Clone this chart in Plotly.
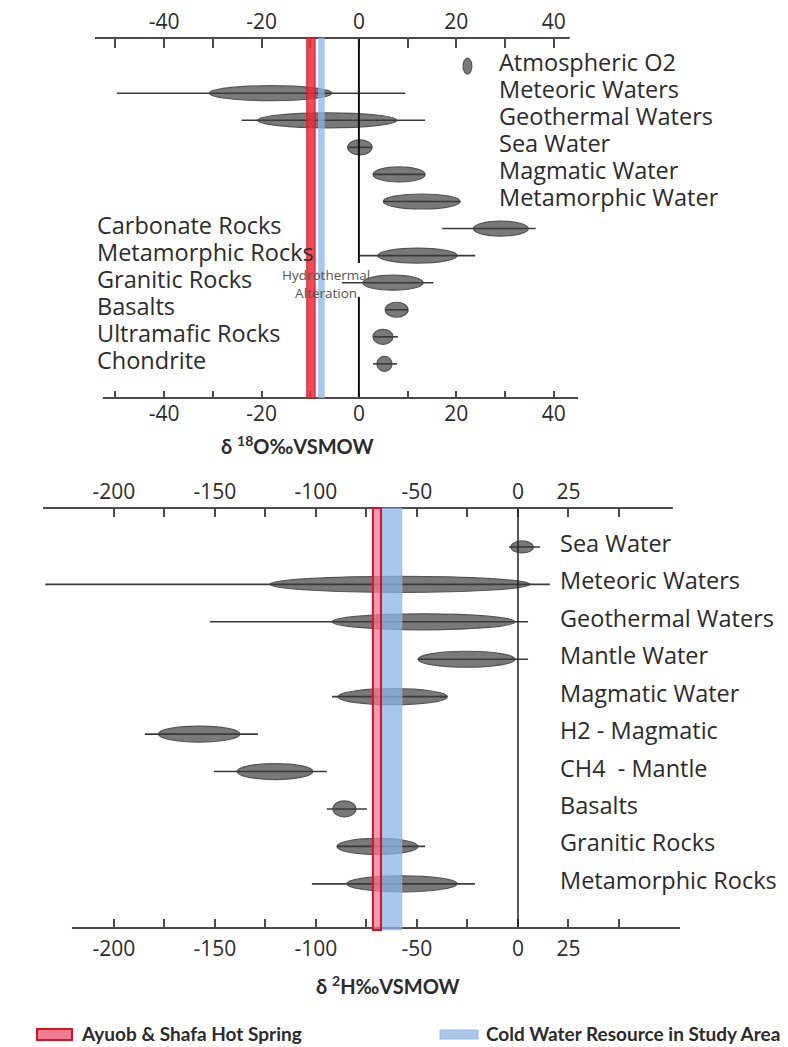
import plotly.graph_objects as go

# ---------------- data: delta 18O panel ----------------
o_labels = ["Atmospheric O2", "Meteoric Waters", "Geothermal Waters", "Sea Water",
            "Magmatic Water", "Metamorphic Water", "Carbonate Rocks", "Metamorphic Rocks",
            "Granitic Rocks", "Basalts", "Ultramafic Rocks", "Chondrite"]
o_core_lo = [21.4, -30.7, -20.8, -2.3, 2.9, 5.0, 23.5, 3.9, 0.8, 5.4, 2.9, 3.7]
o_core_hi = [23.2, -5.6, 7.8, 2.7, 13.6, 20.8, 34.8, 20.2, 13.2, 10.1, 7.0, 6.8]
o_range_lo = [None, -49.7, -24.1, -2.3, 2.9, 5.0, 17.1, 0.2, -3.5, 5.4, 2.9, 2.9]
o_range_hi = [None, 9.5, 13.6, 2.7, 13.6, 20.8, 36.3, 23.9, 15.3, 10.1, 8.0, 7.8]
o_major_ticks = [-40, -20, 0, 20, 40]
o_tick_labels = ["-40", "-20", "0", "20", "40"]
o_minor_ticks = [-50, -30, -10, 10, 30]
hot_o18 = (-10.7, -9.0)
cold_o18 = (-8.3, -7.1)

# ---------------- data: delta 2H panel ----------------
h_labels = ["Sea Water", "Meteoric Waters", "Geothermal Waters", "Mantle Water",
            "Magmatic Water", "H2 - Magmatic", "CH4  - Mantle", "Basalts",
            "Granitic Rocks", "Metamorphic Rocks"]
h_core_lo = [-3.5, -122.8, -92.0, -49.5, -89.0, -178.0, -139.0, -91.6, -89.6, -84.7]
h_core_hi = [7.6, 6.0, -1.5, -1.5, -35.0, -137.6, -101.5, -80.2, -49.5, -30.2]
h_range_lo = [-4.5, -234.0, -152.5, -49.5, -92.0, -184.7, -150.5, -94.6, -89.6, -102.0]
h_range_hi = [11.0, 15.8, 5.0, 5.0, -35.0, -128.7, -94.6, -74.8, -46.0, -21.3]
h_major_ticks = [-200, -150, -100, -50, 0, 25]
h_tick_labels = ["-200", "-150", "-100", "-50", "0", "25"]
h_minor_ticks = [-175, -125, -75, -25, 50]
hot_h2 = (-71.8, -67.8)
cold_h2 = (-67.8, -57.4)

legend_names = ["Ayuob & Shafa Hot Spring", "Cold Water Resource in Study Area"]

# ---------------- layout constants ----------------
W, H = 788, 1047
FONT = "'Open Sans', Lato, sans-serif"
BFONT = "Lato, 'Open Sans', sans-serif"
TXT = "#2b2b2b"
AX = "#4a4a4a"
ELL_FILL = "rgba(110,110,110,0.92)"
ELL_LINE = "#555555"
WHISK = "#3a3a3a"


def px_x(p):
    return p / W


def px_y(p):
    return 1 - p / H


# top panel: plot area px x 95..578, y 38..398
top_xdom = [px_x(95), px_x(578)]
top_ydom = [px_y(398), px_y(38)]
top_xrange = [-54.2, 45.0]
top_yrange = [12.26, -1.04]
# bottom panel: plot area px x 43..680, y 508..928
bot_xdom = [px_x(43), px_x(680)]
bot_ydom = [px_y(928), px_y(508)]
bot_xrange = [-235.1, 80.2]
bot_yrange = [10.18, -1.04]

fig = go.Figure()
shapes = []
annotations = []


def whisker_trace(lo, hi, xa, ya):
    xs, ys = [], []
    for i, (a, b) in enumerate(zip(lo, hi)):
        if a is None:
            continue
        xs += [a, b, None]
        ys += [i, i, None]
    return go.Scatter(x=xs, y=ys, mode="lines", xaxis=xa, yaxis=ya,
                      line=dict(color=WHISK, width=1.6), hoverinfo="skip",
                      showlegend=False)


def add_ellipses(lo, hi, yref, xref, height):
    for i, (a, b) in enumerate(zip(lo, hi)):
        shapes.append(dict(type="circle", xref=xref, yref=yref,
                           x0=a, x1=b, ysizemode="pixel", yanchor=i,
                           y0=-height / 2, y1=height / 2,
                           fillcolor=ELL_FILL, line=dict(color=ELL_LINE, width=1.2),
                           layer="below"))


# ---- top panel traces ----
fig.add_trace(whisker_trace(o_range_lo, o_range_hi, "x", "y"))
fig.add_trace(go.Scatter(x=[None], y=[None], xaxis="x2", yaxis="y",
                         showlegend=False, hoverinfo="skip"))
add_ellipses(o_core_lo, o_core_hi, "y", "x", 15)
# Atmospheric O2 is a taller, narrower blob
shapes[0]["y0"], shapes[0]["y1"] = -8, 8

# ---- bottom panel traces ----
fig.add_trace(whisker_trace(h_range_lo, h_range_hi, "x3", "y2"))
fig.add_trace(go.Scatter(x=[None], y=[None], xaxis="x4", yaxis="y2",
                         showlegend=False, hoverinfo="skip"))
add_ellipses(h_core_lo, h_core_hi, "y2", "x3", 16)
shapes[len(o_labels)]["y0"], shapes[len(o_labels)]["y1"] = -6, 6

# ---- zero lines ----
shapes.append(dict(type="line", xref="x", yref="y domain", x0=0, x1=0, y0=1, y1=0.375,
                   line=dict(color="#111", width=2)))
shapes.append(dict(type="line", xref="x", yref="y domain", x0=0, x1=0, y0=0.281, y1=0,
                   line=dict(color="#111", width=2)))
shapes.append(dict(type="line", xref="x3", yref="y2 domain", x0=0, x1=0, y0=1, y1=0,
                   line=dict(color="#222", width=1.5)))

# ---- axis lines ----
shapes.append(dict(type="line", xref="x", yref="y domain", x0=-54.2, x1=43.3, y0=1, y1=1,
                   line=dict(color=AX, width=2)))
shapes.append(dict(type="line", xref="x", yref="y domain", x0=-52.6, x1=45.0, y0=0, y1=0,
                   line=dict(color=AX, width=2)))
shapes.append(dict(type="line", xref="x3", yref="y2 domain", x0=-235.1, x1=76.7, y0=1, y1=1,
                   line=dict(color=AX, width=2)))
shapes.append(dict(type="line", xref="x3", yref="y2 domain", x0=-220.8, x1=80.2, y0=0, y1=0,
                   line=dict(color=AX, width=2)))

# ---- bands (hot spring / cold water) ----
RED_FILL = "rgba(232,45,60,0.85)"
RED_LINE = "rgba(215,20,35,1)"
BLUE_FILL = "rgba(140,180,228,0.75)"
BLUE_LINE = "rgba(140,180,228,0.9)"
shapes.append(dict(type="rect", xref="x", yref="y domain", x0=cold_o18[0], x1=cold_o18[1],
                   y0=0, y1=1, fillcolor=BLUE_FILL, line=dict(color=BLUE_LINE, width=0.5)))
shapes.append(dict(type="rect", xref="x", yref="y domain", x0=hot_o18[0], x1=hot_o18[1],
                   y0=0, y1=1, fillcolor=RED_FILL, line=dict(color=RED_LINE, width=1)))
shapes.append(dict(type="rect", xref="x3", yref="y2 domain", x0=cold_h2[0], x1=cold_h2[1],
                   y0=-0.005, y1=1, fillcolor=BLUE_FILL, line=dict(color=BLUE_LINE, width=0.5)))
shapes.append(dict(type="rect", xref="x3", yref="y2 domain", x0=hot_h2[0], x1=hot_h2[1],
                   y0=-0.005, y1=1, fillcolor="rgba(240,120,150,0.75)",
                   line=dict(color=RED_LINE, width=2)))

# ---- category labels ----
LAB_SIZE = 23.5
for i, name in enumerate(o_labels):
    left_side = i >= 6
    annotations.append(dict(text=name, xref="paper", yref="y",
                            x=px_x(95) if left_side else px_x(497), y=i, yshift=4,
                            xanchor="left", yanchor="middle", showarrow=False,
                            font=dict(family=FONT, size=LAB_SIZE, color=TXT)))
for i, name in enumerate(h_labels):
    annotations.append(dict(text=name, xref="paper", yref="y2",
                            x=px_x(558), y=i, yshift=4,
                            xanchor="left", yanchor="middle", showarrow=False,
                            font=dict(family=FONT, size=LAB_SIZE, color=TXT)))

annotations.append(dict(text="Hydrothermal<br>Alteration", xref="paper", yref="paper",
                        x=px_x(326), y=px_y(284), xanchor="center", yanchor="middle",
                        showarrow=False, font=dict(family=FONT, size=13.5, color="#555")))

# axis titles
annotations.append(dict(text="<b>δ <sup>18</sup>O‰VSMOW</b>", xref="paper", yref="paper",
                        x=px_x(297), y=px_y(445), xanchor="center", yanchor="middle",
                        showarrow=False, font=dict(family=BFONT, size=20, color=TXT)))
annotations.append(dict(text="<b>δ <sup>2</sup>H‰VSMOW</b>", xref="paper", yref="paper",
                        x=px_x(388), y=px_y(985), xanchor="center", yanchor="middle",
                        showarrow=False, font=dict(family=BFONT, size=20, color=TXT)))

# ---- legend (manual) ----
shapes.append(dict(type="rect", xref="paper", yref="paper", x0=px_x(37), x1=px_x(72),
                   y0=px_y(1040), y1=px_y(1029), fillcolor="rgba(240,110,130,0.9)",
                   line=dict(color=RED_LINE, width=2)))
annotations.append(dict(text="<b>" + legend_names[0] + "</b>", xref="paper", yref="paper",
                        x=px_x(79), y=px_y(1033), xanchor="left", yanchor="middle",
                        showarrow=False, font=dict(family=BFONT, size=19, color=TXT)))
shapes.append(dict(type="rect", xref="paper", yref="paper", x0=px_x(440), x1=px_x(478),
                   y0=px_y(1039), y1=px_y(1030), fillcolor=BLUE_FILL,
                   line=dict(color=BLUE_LINE, width=1)))
annotations.append(dict(text="<b>" + legend_names[1] + "</b>", xref="paper", yref="paper",
                        x=px_x(484), y=px_y(1033), xanchor="left", yanchor="middle",
                        showarrow=False, font=dict(family=BFONT, size=19, color=TXT)))

tickfont = dict(family=FONT, size=21, color=TXT)
common_x = dict(showgrid=False, zeroline=False, showline=False, ticks="inside",
                tickwidth=2, tickcolor=AX, tickfont=tickfont, fixedrange=True,
                tickmode="array")


def minor(vals, length):
    return dict(tickmode="array", tickvals=vals, ticks="inside", ticklen=length,
                tickwidth=2, tickcolor=AX, showgrid=False)


fig.update_layout(
    width=W, height=H,
    margin=dict(l=0, r=0, t=0, b=0),
    paper_bgcolor="white", plot_bgcolor="rgba(0,0,0,0)",
    showlegend=False,
    font=dict(family=FONT, color=TXT),
    xaxis=dict(domain=top_xdom, range=top_xrange, anchor="y", side="bottom",
               tickvals=o_major_ticks, ticktext=o_tick_labels, ticklen=7,
               ticklabelstandoff=1, minor=minor(o_minor_ticks, 7), **common_x),
    xaxis2=dict(overlaying="x", matches="x", anchor="y", side="top", range=top_xrange,
                tickvals=o_major_ticks, ticktext=o_tick_labels, ticklen=10,
                ticklabelstandoff=4, minor=minor(o_minor_ticks, 10), **common_x),
    yaxis=dict(domain=top_ydom, range=top_yrange, anchor="x", visible=False, fixedrange=True),
    xaxis3=dict(domain=bot_xdom, range=bot_xrange, anchor="y2", side="bottom",
                tickvals=h_major_ticks, ticktext=h_tick_labels, ticklen=9,
                ticklabelstandoff=6, minor=minor(h_minor_ticks, 9), **common_x),
    xaxis4=dict(overlaying="x3", matches="x3", anchor="y2", side="top", range=bot_xrange,
                tickvals=h_major_ticks, ticktext=h_tick_labels, ticklen=9,
                ticklabelstandoff=4, minor=minor(h_minor_ticks, 9), **common_x),
    yaxis2=dict(domain=bot_ydom, range=bot_yrange, anchor="x3", visible=False, fixedrange=True),
    shapes=shapes,
    annotations=annotations,
)

fig.write_html("out.html", config={"displayModeBar": False},
               post_script="document.body.style.margin='0';")
